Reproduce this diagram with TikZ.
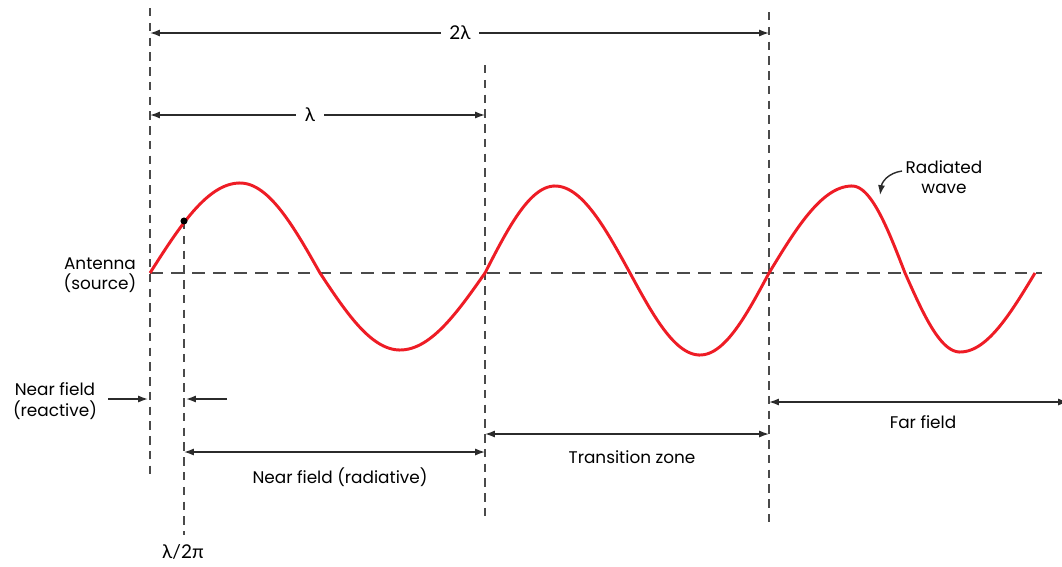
\documentclass[tikz,border=0pt]{standalone}
\usepackage{fontspec}
\setmainfont{Poppins}
\newfontfamily\greekfont{Lato}
\usetikzlibrary{arrows.meta}
\definecolor{wavered}{HTML}{EE1C25}
\definecolor{dashgray}{HTML}{4A4A4A}
\definecolor{dimgray}{HTML}{2B2B2B}
\begin{document}
\begin{tikzpicture}[x=0.025cm,y=-0.025cm,
  guide/.style={draw=dashgray, line width=1.1pt, dash pattern=on 6pt off 4.5pt},
  axisline/.style={draw=dashgray, line width=1.2pt, dash pattern=on 9pt off 6pt},
  dim/.style={draw=dimgray, line width=1pt, {Latex[length=7pt,width=5pt]}-{Latex[length=7pt,width=5pt]}},
  onetip/.style={draw=dimgray, line width=1pt, -{Latex[length=7pt,width=5pt]}},
  lbl/.style={font=\fontsize{12}{14.5}\selectfont, text=black, inner sep=1pt, align=center},
  gk/.style={font=\greekfont\fontsize{13.5}{15}\selectfont},
  gap/.style={lbl, fill=white, inner xsep=6pt},
  wave/.style={draw=wavered, line width=2.1pt}]
\useasboundingbox (0,0) rectangle (1062,566);

% vertical guides
\coordinate (g0t) at (150,8);   \coordinate (g0b) at (150,480);
\coordinate (g1t) at (184,221); \coordinate (g1b) at (184,535);
\coordinate (g2t) at (485,65);  \coordinate (g2b) at (485,522);
\coordinate (g3t) at (769,12);  \coordinate (g3b) at (769,522);
\draw[guide] (g0t) -- (g0b);
\draw[guide] (g1t) -- (g1b);
\draw[guide] (g2t) -- (g2b);
\draw[guide] (g3t) -- (g3b);

% axis
\coordinate (ax0) at (150,273); \coordinate (ax1) at (1042,273);
\draw[axisline] (ax0) -- (ax1);

% wave
\draw[wave]
  plot[domain=150:240, samples=30] (\x, {273-90*sin(90*(\x-150)/90)})
  -- plot[domain=240:320, samples=30] (\x, {273-90*cos(90*(\x-240)/80)})
  -- plot[domain=320:400, samples=30] (\x, {273+77*sin(90*(\x-320)/80)})
  -- plot[domain=400:485, samples=30] (\x, {273+77*cos(90*(\x-400)/85)})
  -- plot[domain=485:555, samples=30] (\x, {273-87*sin(90*(\x-485)/70)})
  -- plot[domain=555:630, samples=30] (\x, {273-87*cos(90*(\x-555)/75)})
  -- plot[domain=630:700, samples=30] (\x, {273+82*sin(90*(\x-630)/70)})
  -- plot[domain=700:769, samples=30] (\x, {273+82*cos(90*(\x-700)/69)})
  -- plot[domain=769:852, samples=30] (\x, {273-87*sin(90*(\x-769)/83)})
  -- plot[domain=852:905, samples=30] (\x, {273-87*cos(90*(\x-852)/53)})
  -- plot[domain=905:960, samples=30] (\x, {273+79*sin(90*(\x-905)/55)})
  -- plot[domain=960:1035, samples=30] (\x, {273+79*cos(90*(\x-960)/75)});
\fill[black] (g1t) circle[radius=2.5pt];

% dimension 2 lambda
\coordinate (d2a) at (150,33); \coordinate (d2b) at (769,33);
\draw[dim] (d2a) -- (d2b);
\node[gap, gk] (twolam) at (460,33) {2λ};
% dimension lambda
\coordinate (d1a) at (150,115); \coordinate (d1b) at (485,115);
\draw[dim] (d1a) -- (d1b);
\node[gap, gk] (lam) at (310,115) {λ};

% near field radiative
\coordinate (nra) at (184,452); \coordinate (nrb) at (485,452);
\draw[dim] (nra) -- (nrb);
\node[lbl] (nrl) at (340,477) {Near field (radiative)};
% transition zone
\coordinate (tza) at (485,434); \coordinate (tzb) at (769,434);
\draw[dim] (tza) -- (tzb);
\node[lbl] (tzl) at (632,457) {Transition zone};
% far field
\coordinate (ffa) at (769,402); \coordinate (ffb) at (1068,402);
\draw[dim] (ffa) -- (ffb);
\node[lbl] (ffl) at (923,422) {Far field};

% near field reactive
\coordinate (nxa) at (108,399); \coordinate (nxb) at (148,399);
\coordinate (nya) at (227,399); \coordinate (nyb) at (186,399);
\draw[onetip] (nxa) -- (nxb);
\draw[onetip] (nya) -- (nyb);
\node[lbl] (nfr) at (55,401) {Near field\\(reactive)};

% antenna
\node[lbl] (ant) at (100,275) {Antenna\\(source)};

% lambda / 2 pi
\node[lbl, gk] (l2p) at (183,552) {λ/2π};

% radiated wave
\node[lbl] (rw) at (944,177) {Radiated\\wave};
\coordinate (rwt) at (902,171); \coordinate (rwh) at (880,195);
\draw[onetip] (rwt) .. controls (888,173) and (882,182) .. (rwh);
\end{tikzpicture}
\end{document}
